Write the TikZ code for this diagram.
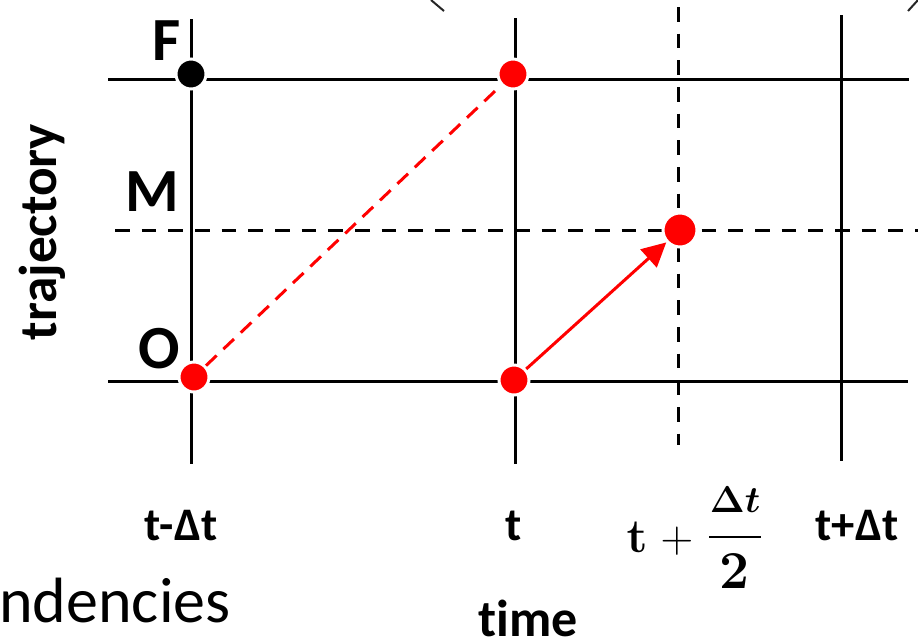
\documentclass[tikz,border=0pt]{standalone}
\usepackage{fontspec}
\usepackage{amsmath,bm}
\usepackage{fix-cm}
\setmainfont{Carlito}[Ligatures=NoCommon]
\usetikzlibrary{arrows.meta}
\begin{document}
\begin{tikzpicture}[x=0.75pt,y=-0.75pt,
  grid/.style={line width=2.25pt,black},
  dgrid/.style={line width=2.25pt,black,dash pattern=on 11pt off 9pt},
  reddot/.style={circle,fill=red,draw=white,line width=2.25pt,minimum size=#1,inner sep=0pt},
  blackdot/.style={circle,fill=black,draw=white,line width=2.25pt,minimum size=#1,inner sep=0pt},
  lbl/.style={font=\fontsize{46}{50}\selectfont\bfseries,inner sep=0pt},
  tlbl/.style={font=\fontsize{35}{40}\selectfont\bfseries,inner sep=0pt,anchor=base},
  mlbl/.style={inner sep=0pt,anchor=base},
  redline/.style={red,line width=2.25pt}]
\useasboundingbox (0,0) rectangle (918,637);
% grid coordinates
\coordinate (h1a) at (108,79);  \coordinate (h1b) at (909,79);
\coordinate (h2a) at (115,230); \coordinate (h2b) at (918,230);
\coordinate (h3a) at (108,381); \coordinate (h3b) at (908,381);
\coordinate (v1a) at (191,19);  \coordinate (v1b) at (191,464);
\coordinate (v2a) at (515,18);  \coordinate (v2b) at (515,464);
\coordinate (v3a) at (678,7);   \coordinate (v3b) at (678,445);
\coordinate (v4a) at (841,15);  \coordinate (v4b) at (841,461);
\draw[grid] (h1a) -- (h1b);
\draw[grid] (h3a) -- (h3b);
\draw[dgrid] (h2a) -- (h2b);
\draw[grid] (v1a) -- (v1b);
\draw[grid] (v2a) -- (v2b);
\draw[grid] (v4a) -- (v4b);
\draw[dgrid] (v3a) -- (v3b);
% partial marks at top
\coordinate (pa) at (431,0); \coordinate (pb) at (444,11);
\coordinate (pc) at (908,11); \coordinate (pd) at (918,0);
\draw[line width=1.5pt,black!85] (pa) -- (pb);
\draw[line width=1.5pt,black!85] (pc) -- (pd);
% dots
\node[blackdot=22.5pt] (F) at (191,74) {};
\node[reddot=22.5pt] (Ft) at (513,74) {};
\node[reddot=22.5pt] (O) at (194,377) {};
\node[reddot=22.5pt] (Ot) at (514,380) {};
\node[reddot=25.5pt] (Mt) at (680,230) {};
% connectors
\draw[redline,dash pattern=on 11pt off 7pt] (O) -- (Ft);
\draw[redline,-{Triangle[length=18pt,width=18pt]}] (Ot) -- (Mt);
% labels
\node[lbl] (lF) at (167,41) {F};
\node[lbl] (lM) at (152,192) {M};
\node[lbl] (lO) at (159,349) {O};
\node[font=\fontsize{40}{44}\selectfont\bfseries,rotate=90,inner sep=0pt] (traj) at (42,232) {trajectory};
\node[tlbl] (l1) at (181,540) {t-Δt};
\node[tlbl] (l2) at (514,540) {t};
\node[tlbl] (l4) at (857,540) {t+Δt};
% t + Δt/2
\node[mlbl,font=\fontsize{36}{40}\selectfont\boldmath] (m1) at (637,552) {$\mathbf{t}$};
\node[mlbl,font=\fontsize{34}{40}\selectfont] (m2) at (677,552) {$+$};
\node[mlbl,font=\fontsize{28}{32}\selectfont\boldmath] (m3) at (735,512) {$\Delta\bm{t}$};
\node[mlbl,font=\fontsize{40}{44}\selectfont\boldmath] (m4) at (734,588) {$\mathbf{2}$};
\coordinate (fa) at (709,537); \coordinate (fb) at (761,537);
\draw[line width=2pt] (fa) -- (fb);
\node[font=\fontsize{39}{44}\selectfont\bfseries,inner sep=0pt,anchor=base west] (time) at (478,636) {time};
\node[font=\fontsize{48}{52}\selectfont,inner sep=0pt,anchor=base west] (nd) at (-1,622) {ndencies};
\end{tikzpicture}
\end{document}
